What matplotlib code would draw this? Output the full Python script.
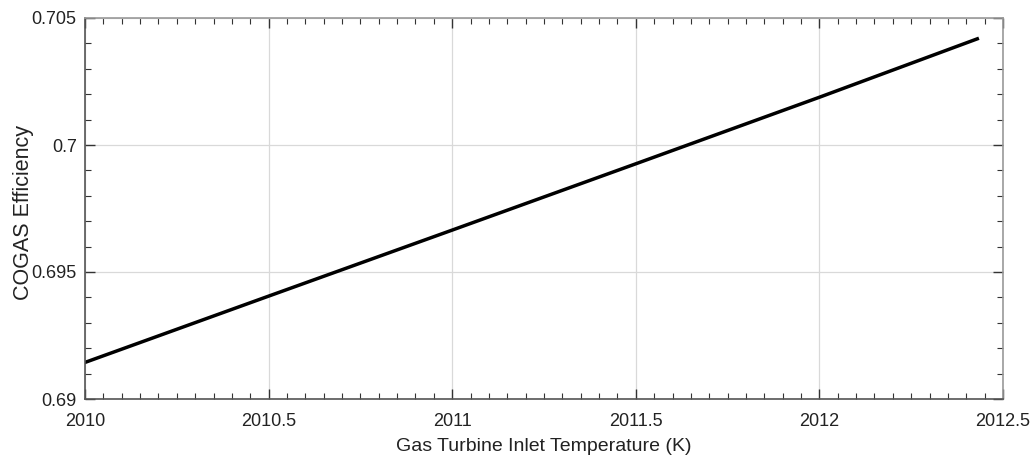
import numpy as np
import matplotlib.pyplot as plt
from matplotlib.ticker import MultipleLocator

# gas turbine inlet temperature (K) and combined cycle efficiency
temps = [2010.0, 2010.5, 2011.0, 2011.5, 2012.0, 2012.43]
efficiency = [0.69144, 0.69405, 0.69665, 0.69926, 0.70188, 0.70418]

xticks = [2010, 2010.5, 2011, 2011.5, 2012, 2012.5]
xticklabels = ["2010", "2010.5", "2011", "2011.5", "2012", "2012.5"]
yticks = [0.69, 0.695, 0.7, 0.705]
yticklabels = ["0.69", "0.695", "0.7", "0.705"]

plt.rcParams['font.family'] = ['Liberation Sans', 'DejaVu Sans']

fig = plt.figure(figsize=(10.32, 4.67), dpi=100)
ax = fig.add_axes([85 / 1032, 1 - 399 / 467, 918 / 1032, 381 / 467])

ax.plot(temps, efficiency, color="black", linewidth=2.5)

ax.set_xlim(2010, 2012.5)
ax.set_ylim(0.69, 0.705)
ax.set_xticks(xticks)
ax.set_xticklabels(xticklabels)
ax.set_yticks(yticks)
ax.set_yticklabels(yticklabels)
ax.xaxis.set_minor_locator(MultipleLocator(0.05))
ax.yaxis.set_minor_locator(MultipleLocator(0.001))

ax.tick_params(which="both", direction="in", top=True, right=True,
               labelsize=13, colors="#333333", labelcolor="#222222")
ax.tick_params(which="major", length=7, width=1)
ax.tick_params(which="minor", length=4, width=0.8)
ax.tick_params(axis="x", which="major", pad=10)
ax.tick_params(axis="y", which="major", pad=6)

ax.grid(True, which="major", color="#d9d9d9", linewidth=0.9)
ax.set_axisbelow(True)
for side in ["left", "bottom"]:
    ax.spines[side].set_color("#555555")
for side in ["top", "right"]:
    ax.spines[side].set_color("#999999")
for s in ax.spines.values():
    s.set_linewidth(1.2)

ax.set_xlabel("Gas Turbine Inlet Temperature (K)", fontsize=14, color="#222222", labelpad=6)
ax.set_ylabel("COGAS Efficiency", fontsize=15.5, color="#222222")
ax.yaxis.set_label_coords(-0.056, 0.49)

fig.savefig("out.png", dpi=100)
